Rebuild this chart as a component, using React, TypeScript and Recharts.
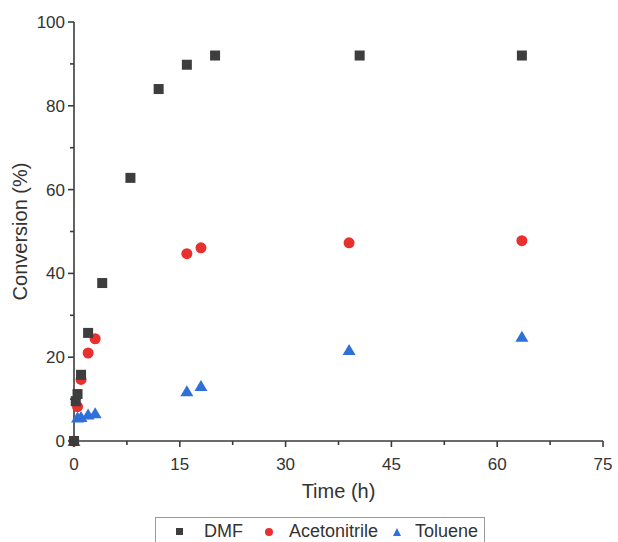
import { Scatter, ScatterChart, XAxis, YAxis } from 'recharts';

const X_TICKS = [0, 7.5, 15, 22.5, 30, 37.5, 45, 52.5, 60, 67.5, 75];
const X_MAJOR = [0, 15, 30, 45, 60, 75];
const Y_TICKS = [0, 10, 20, 30, 40, 50, 60, 70, 80, 90, 100];
const Y_MAJOR = [0, 20, 40, 60, 80, 100];

const DMF = [
  { t: 0, c: 0 },
  { t: 0.25, c: 9.5 },
  { t: 0.5, c: 11.2 },
  { t: 1, c: 15.8 },
  { t: 2, c: 25.8 },
  { t: 4, c: 37.7 },
  { t: 8, c: 62.8 },
  { t: 12, c: 84 },
  { t: 16, c: 89.8 },
  { t: 20, c: 92 },
  { t: 40.5, c: 92 },
  { t: 63.5, c: 92 },
];

const ACETONITRILE = [
  { t: 0, c: 0 },
  { t: 0.5, c: 8.2 },
  { t: 1, c: 14.7 },
  { t: 2, c: 21 },
  { t: 3, c: 24.4 },
  { t: 16, c: 44.7 },
  { t: 18, c: 46.1 },
  { t: 39, c: 47.3 },
  { t: 63.5, c: 47.8 },
];

const TOLUENE = [
  { t: 0, c: 0 },
  { t: 0.5, c: 5.6 },
  { t: 1, c: 5.7 },
  { t: 2, c: 6.3 },
  { t: 3, c: 6.6 },
  { t: 16, c: 11.9 },
  { t: 18, c: 13.1 },
  { t: 39, c: 21.7 },
  { t: 63.5, c: 24.9 },
];

const AXIS = '#3a3a3a';
const TEXT = '#333333';
const FONT = '"Liberation Sans", Arial, sans-serif';

const COLORS = { dmf: '#3d3d3d', acn: '#e8302f', tol: '#2f6fd8' };

const Square = ({ cx, cy }: any) => (
  <rect x={cx - 5} y={cy - 5} width={10} height={10} fill={COLORS.dmf} />
);
const Dot = ({ cx, cy }: any) => <circle cx={cx} cy={cy} r={5.5} fill={COLORS.acn} />;
const Tri = ({ cx, cy }: any) => (
  <path d={`M${cx},${cy - 6} L${cx + 6.5},${cy + 5} L${cx - 6.5},${cy + 5} Z`} fill={COLORS.tol} />
);

function XTick({ x, y, payload }: any) {
  const major = X_MAJOR.includes(payload.value);
  return (
    <g>
      <line x1={x} x2={x} y1={y} y2={y + (major ? 6 : 4)} stroke={AXIS} strokeWidth={1.6} />
      {major && (
        <text x={x} y={y + 29} textAnchor="middle" fontSize={17} fill={TEXT}>
          {payload.value}
        </text>
      )}
    </g>
  );
}

function YTick({ x, y, payload }: any) {
  const major = Y_MAJOR.includes(payload.value);
  return (
    <g>
      <line x1={x - (major ? 6 : 4)} x2={x} y1={y} y2={y} stroke={AXIS} strokeWidth={1.6} />
      {major && (
        <text x={x - 9} y={y + 6} textAnchor="end" fontSize={17} fill={TEXT}>
          {payload.value}
        </text>
      )}
    </g>
  );
}

const LEGEND = [
  {
    label: 'DMF',
    gapBefore: 0,
    Mark: () => <span style={{ width: 7, height: 7, background: COLORS.dmf, marginRight: 21 }} />,
  },
  {
    label: 'Acetonitrile',
    gapBefore: 22,
    Mark: () => (
      <span style={{ width: 8, height: 8, borderRadius: '50%', background: COLORS.acn, marginRight: 16 }} />
    ),
  },
  {
    label: 'Toluene',
    gapBefore: 15,
    Mark: () => (
      <span
        style={{
          width: 0,
          height: 0,
          borderLeft: '4.5px solid transparent',
          borderRight: '4.5px solid transparent',
          borderBottom: `8px solid ${COLORS.tol}`,
          marginRight: 14,
        }}
      />
    ),
  },
];

export default function App() {
  return (
    <div style={{ position: 'absolute', left: 0, top: 0, width: 618, height: 542, overflow: 'hidden', background: '#fff', fontFamily: FONT }}>
      <ScatterChart width={618} height={542} margin={{ top: 22, right: 15, bottom: 56, left: 14 }} style={{ fontFamily: FONT }}>
        <XAxis
          type="number"
          dataKey="t"
          domain={[0, 75]}
          ticks={X_TICKS}
          interval={0}
          height={45}
          tickSize={0}
          tickMargin={0}
          tick={<XTick />}
          stroke={AXIS}
          strokeWidth={1.6}
          label={{ value: 'Time (h)', position: 'bottom', offset: -2, fontSize: 20, fill: TEXT }}
        />
        <YAxis
          type="number"
          dataKey="c"
          domain={[0, 100]}
          ticks={Y_TICKS}
          interval={0}
          width={60}
          tickSize={0}
          tickMargin={0}
          tick={<YTick />}
          stroke={AXIS}
          strokeWidth={1.6}
          label={{
            value: 'Conversion (%)',
            angle: -90,
            position: 'insideLeft',
            offset: 6,
            fontSize: 20,
            fill: TEXT,
            style: { textAnchor: 'middle' },
          }}
        />
        <Scatter name="Toluene" data={TOLUENE} shape={<Tri />} isAnimationActive={false} />
        <Scatter name="Acetonitrile" data={ACETONITRILE} shape={<Dot />} isAnimationActive={false} />
        <Scatter name="DMF" data={DMF} shape={<Square />} isAnimationActive={false} />
      </ScatterChart>
      <div
        style={{
          position: 'absolute',
          left: 155,
          top: 517,
          width: 330,
          height: 40,
          border: '1.5px solid #9a9a9a',
          boxSizing: 'border-box',
          display: 'flex',
          alignItems: 'flex-start',
          paddingTop: 3,
          paddingLeft: 20,
          fontSize: 18,
          color: TEXT,
        }}
      >
        {LEGEND.map(({ label, Mark, gapBefore }) => (
          <span key={label} style={{ display: 'inline-flex', alignItems: 'center', marginLeft: gapBefore }}>
            <Mark />
            {label}
          </span>
        ))}
      </div>
    </div>
  );
}
